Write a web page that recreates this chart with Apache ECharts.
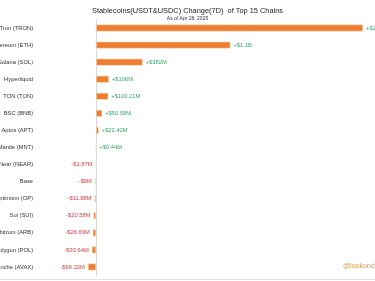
<!DOCTYPE html>
<html>
<head>
<meta charset="utf-8">
<script src="https://cdn.jsdelivr.net/npm/echarts@6/dist/echarts.min.js"></script>
<style>html,body{margin:0;padding:0;background:#fff}#c{width:375px;height:281px}</style>
</head>
<body>
<div id="c"></div>
<script>
// Data (values in millions USD)
const chains = ["Tron (TRON)", "Ethereum (ETH)", "Solana (SOL)", "Hyperliquid", "TON (TON)", "BSC (BNB)", "Aptos (APT)", "Mantle (MNT)", "Near (NEAR)", "Base", "Optimism (OP)", "Sui (SUI)", "Arbitrum (ARB)", "Polygon (POL)", "Avalanche (AVAX)"];
const changes = [2185, 1100, 382, 106, 100.21, 50.58, 22.42, 0.44, -1.87, -9, -11.88, -20.58, -26.69, -33.64, -66.22];
const changeLabels = ["+$2.18B", "+$1.1B", "+$382M", "+$106M", "+$100.21M", "+$50.58M", "+$22.42M", "+$0.44M", "-$1.87M", "-$9M", "-$11.88M", "-$20.58M", "-$26.69M", "-$33.64M", "-$66.22M"];

const chart = echarts.init(document.getElementById('c'), null, {renderer: 'canvas'});
const FONT = '"Liberation Sans", Arial, sans-serif';
chart.setOption({
  animation: false,
  backgroundColor: '#fff',
  title: {
    text: 'Stablecoins(USDT&USDC) Change(7D)  of Top 15 Chains',
    subtext: 'As of Apr 28, 2025',
    left: 'center',
    top: 2,
    itemGap: 2,
    textStyle: {fontFamily: FONT, fontSize: 7.4, fontWeight: 'normal', color: '#222'},
    subtextStyle: {fontFamily: FONT, fontSize: 5, color: '#333'}
  },
  grid: {left: 71.56, right: 10.1, top: 19.5, bottom: 5.5, containLabel: false, outerBoundsMode: 'none'},
  xAxis: {
    type: 'value', min: -200, max: 2200,
    axisLine: {show: false}, axisTick: {show: false},
    axisLabel: {show: false}, splitLine: {show: false}
  },
  yAxis: {
    type: 'category', inverse: true, data: chains,
    axisLine: {show: true, onZero: true, lineStyle: {color: '#d8d8d8', width: 1}},
    axisTick: {show: false},
    axisLabel: {margin: 38.5, fontFamily: FONT, fontSize: 5.8, color: '#333', align: 'right'}
  },
  series: [{
    type: 'bar',
    barWidth: 7,
    data: changes.map((v, i) => ({
      value: v,
      label: {
        show: true,
        position: v >= 0 ? 'right' : 'left',
        distance: 3,
        formatter: changeLabels[i],
        fontFamily: FONT, fontSize: 5.8,
        color: v >= 0 ? '#3aa86b' : '#cf3f45'
      }
    })),
    itemStyle: {color: '#ED7D31', borderColor: '#fbe3c6', borderWidth: 0.6}
  }],
  graphic: [
    {type: 'line', shape: {x1: 0, y1: 279.5, x2: 375, y2: 279.5}, style: {stroke: '#e2e2e2', lineWidth: 1}},
    {type: 'text', left: 343, top: 263, style: {text: '@lookonchain', fontFamily: FONT, fontSize: 7, fill: '#e0964a'}}
  ]
});
</script>
</body>
</html>
